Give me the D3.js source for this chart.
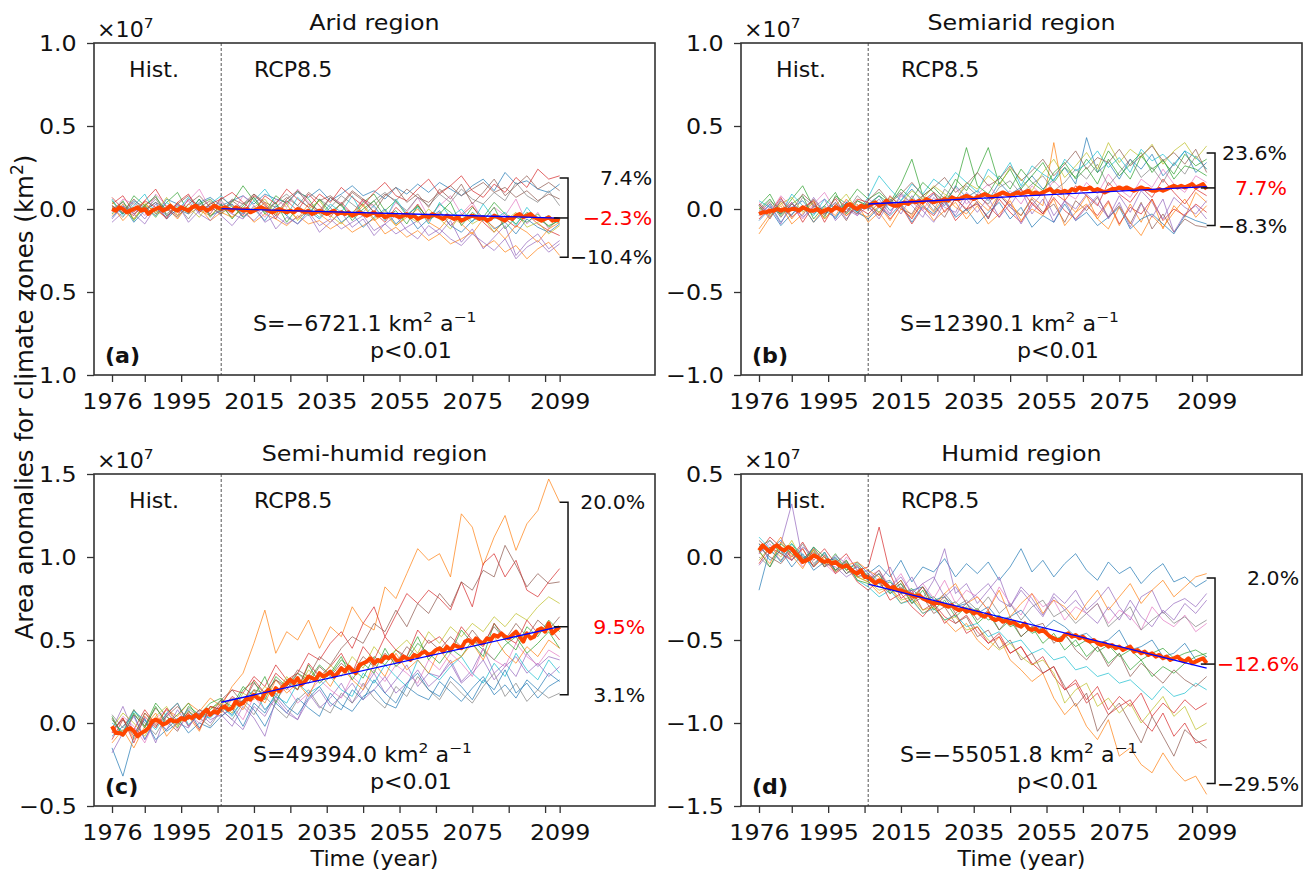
<!DOCTYPE html>
<html>
<head>
<meta charset="utf-8">
<script src="https://cdn.jsdelivr.net/npm/d3@7"></script>
<style>
  body { margin: 0; background: #fff; }
  svg { display: block; }
  text { font-family: "DejaVu Sans", sans-serif; }
</style>
</head>
<body>
<div id="chart"></div>
<script>
//////////////////////////////////////
// Data (area anomalies, units of 1e5 km2; the axes show x1e7)
//////////////////////////////////////

const mean_years = d3.range(1976, 2100);      // yearly ensemble mean
const run_years = d3.range(1976, 2100, 3);    // model runs, read every 3rd year
const trend_years = [2006, 2099];

const x_ticks = [1976, 1985, 1995, 2005, 2015, 2025, 2035, 2045, 2055, 2065, 2075, 2085, 2095, 2099];
const x_tick_labels = [1976, 1995, 2015, 2035, 2055, 2075, 2099];

const titles = ['Arid region', 'Semiarid region', 'Semi-humid region', 'Humid region'];
const letters = ['(a)', '(b)', '(c)', '(d)'];
const slopes = ['S=\u22126721.1', 'S=12390.1', 'S=49394.0', 'S=\u221255051.8'];
const pct_labels = [
  ['7.4%', '\u22122.3%', '\u221210.4%'],
  ['23.6%', '7.7%', '\u22128.3%'],
  ['20.0%', '9.5%', '3.1%'],
  ['2.0%', '\u221212.6%', '\u221229.5%']
];
// bracket ends (x1e7): max run, mean, min run at 2099
const bracket_vals = [
  [0.187, -0.054, -0.29],
  [0.337, 0.127, -0.10],
  [1.33, 0.58, 0.17],
  [-0.127, -0.645, -1.365]
];
const y_domains = [[-1, 1], [-1, 1], [-0.5, 1.5], [-1.5, 0.5]];
const y_ticks = [
  [-1, -0.5, 0, 0.5, 1],
  [-1, -0.5, 0, 0.5, 1],
  [-0.5, 0, 0.5, 1, 1.5],
  [-1.5, -1, -0.5, 0, 0.5]
];

// Arid
const arid_mean = [
  0,-1,1,0,-2,-1,0,1,-1,0, -3,-1,0,1,-1,0,2,0,-1,1, 0,-1,1,2,0,1,-1,0,2,1,
  0,1,0,-1,1,0,-1,0,-2,-1, 0,1,0,-1,-2,-1,0,-1,-2,-1, -2,0,-1,-2,-1,-3,-2,-1,-2,-3,
  -2,-1,-3,-2,-3,-2,-4,-3,-2,-3, -4,-3,-2,-4,-3,-5,-4,-3,-4,-5, -4,-3,-5,-4,-6,-5,-4,-5,-3,-4,
  -5,-6,-4,-5,-6,-5,-7,-6,-5,-4, -5,-6,-5,-7,-6,-4,-5,-6,-7,-5, -6,-4,-3,-5,-4,-3,-5,-6,-7,-6,
  -5,-7,-6,-7
];
const arid_trend = [0.2, -5.5];
const arid_runs = [
  [2,-3,5,1,-4,6,3,-2,4,7,2,5,8,3,9,6,4,10,7,12,5,9,14,8,11,6,13,9,15,10,16,12,8,14,18,11,22,15,17,12,10,15],
  [-4,3,-6,2,-1,-5,4,-3,1,-7,-2,-5,0,-8,-3,-6,-10,-4,-9,-7,-12,-8,-14,-10,-6,-15,-11,-17,-13,-19,-15,-21,-18,-14,-23,-19,-26,-22,-30,-24,-20,-28],
  [5,-3,8,2,-5,4,10,-2,3,6,-1,4,14,5,-2,8,3,11,6,-3,7,2,-5,4,9,-1,5,-4,2,-6,3,-2,-8,1,-5,4,-3,-9,-2,-6,-10,-7],
  [3,8,-2,5,12,1,-4,6,2,-3,7,2,-4,8,3,-6,5,-1,9,2,-5,4,-3,6,-2,-8,1,-5,3,-7,-2,-10,-4,2,-8,-14,-6,-11,-3,-9,-13,-16],
  [-8,-2,1,-6,3,-4,-1,5,-3,-7,1,-3,-6,2,-8,-4,-9,-5,-2,-10,-6,-12,-8,-4,-13,-9,-15,-11,-7,-16,-12,-18,-22,-15,-20,-25,-18,-30,-23,-19,-26,-21],
  [0,4,-3,2,7,-1,3,8,1,5,-2,6,3,9,4,1,7,2,10,5,8,3,11,6,2,9,5,12,7,4,10,14,8,12,16,10,13,7,11,5,9,6],
  [-2,6,3,-4,9,2,-1,5,12,0,4,-3,8,2,-5,6,1,12,4,-2,7,3,-4,5,1,-6,4,-2,7,-5,2,8,-3,4,-7,1,-4,6,-9,-2,-12,-5],
  [1,-5,4,-1,6,-3,2,-6,3,0,5,-2,3,7,-1,4,9,2,-3,6,1,8,3,-2,5,10,4,-1,7,2,9,4,12,6,3,10,5,16,8,4,11,2],
  [4,-1,-6,3,-2,7,-4,1,-5,4,-3,2,-5,1,6,-3,3,-7,0,5,-4,-9,-2,3,-6,-1,-10,-4,-8,0,-6,-12,-3,-9,-5,-14,-7,-2,-11,-8,-15,-10],
  [6,-4,2,9,-3,4,-1,7,-2,3,8,1,-3,5,12,3,-4,7,1,-5,3,-2,8,-4,2,-7,6,-3,1,-9,4,-5,0,-8,3,-6,-2,-10,1,-7,-4,-9],
  [-5,2,-8,-1,4,-6,0,-3,6,-4,-1,3,-5,0,-7,2,-4,-9,-1,-6,1,-8,-3,-11,-5,0,-9,-3,-12,-6,-1,-10,-14,-7,-4,-12,-8,-15,-6,-11,-14,-9],
  [2,-7,0,4,-3,1,-6,3,-1,-4,2,-5,1,-2,4,-4,0,-6,3,-3,-8,-1,-5,2,-7,-3,-10,-5,0,-8,-12,-4,-9,-15,-6,-11,-18,-10,-14,-20,-12,-8],
  [-3,5,-7,2,8,-4,1,-2,6,-5,3,-6,2,7,-3,4,-8,1,-4,6,-2,3,-7,0,5,-5,-1,-9,2,-6,-3,4,-10,-2,-7,1,-12,-5,-8,-3,-11,-6],
  [7,0,-4,5,1,-6,4,9,-2,3,6,10,4,-2,8,3,12,6,1,9,4,13,7,2,10,16,8,5,12,18,9,14,20,11,7,15,10,19,13,24,18,20],
  [-6,2,-3,-9,1,-5,3,-8,-1,2,-4,-10,-2,-7,0,-12,-5,-9,-3,-14,-8,-2,-11,-6,-16,-9,-4,-13,-18,-10,-15,-7,-20,-12,-24,-17,-10,-28,-20,-15,-24,-19],
  [2,-2,6,-1,4,0,-5,3,8,1,-3,5,0,9,2,-4,6,11,3,-1,7,2,10,5,-2,8,13,4,9,1,12,6,15,3,10,18,8,14,20,12,16,11]
];

// Semiarid
const semiarid_mean = [
  -3,-2,-2,-1,-1,0,-1,0,-1,0, 0,-1,1,0,-1,-1,0,-2,-1,0, -1,1,0,-1,2,3,1,0,2,1,
  2,3,4,2,3,5,3,2,2,3, 4,3,5,4,5,4,6,5,4,5, 5,6,5,7,6,6,7,8,7,6,
  7,8,9,8,7,8,9,10,9,8, 9,10,9,10,11,9,10,9,10,11, 12,10,11,10,11,10,12,11,13,12,
  12,13,11,12,11,10,11,12,12,13, 12,13,12,11,12,13,12,12,11,11, 12,11,12,13,14,13,14,13,14,15,
  13,14,15,12
];
const semiarid_trend = [3, 13.5];
const semiarid_runs = [
  [-4,3,-8,1,5,-3,2,-6,4,-2,3,8,-1,5,12,4,9,2,14,7,11,5,16,9,13,20,12,18,25,15,43,22,28,18,30,24,33,20,27,35,22,28],
  [-12,-3,4,-6,2,-8,1,-4,6,-2,-5,2,-7,3,-4,6,-2,8,1,-3,5,-1,9,3,-4,7,2,40,5,-2,8,-6,4,-10,3,-8,6,-12,2,-5,10,4],
  [2,9,-3,6,14,1,-5,8,3,12,6,10,4,15,30,8,13,6,18,11,22,37,15,24,12,20,28,16,25,19,30,22,35,26,18,32,24,29,21,33,26,30],
  [-6,1,-3,4,-8,2,-1,6,-4,1,-3,4,-6,2,-9,1,-4,5,-7,0,3,-5,6,-2,-8,4,-3,7,-1,-6,2,-4,5,-9,1,-3,6,-7,0,-4,3,-2],
  [3,-5,6,0,-4,7,-2,4,-6,2,0,6,-3,9,2,-5,7,1,-2,10,4,-6,8,2,12,-3,6,-8,5,0,9,3,-5,8,-2,11,4,-6,7,1,-3,5],
  [-2,4,-5,3,-1,6,-3,2,-7,5,1,-4,6,0,-3,8,2,-5,7,-1,4,-6,9,1,-4,6,-2,3,-8,5,-1,7,-5,2,-9,4,-12,-3,-14,-6,-10,-11],
  [4,-2,8,1,-6,3,10,-1,5,-4,6,2,-3,8,4,-1,10,5,13,3,9,15,6,11,3,14,8,17,10,6,16,9,21,12,7,18,13,24,15,10,20,16],
  [-1,5,0,-4,7,2,-3,4,-2,8,2,-2,5,10,3,8,-1,12,6,14,8,3,13,17,9,15,20,11,16,24,18,27,14,22,30,19,25,16,28,21,32,24],
  [1,-4,3,7,-2,5,-6,2,9,-1,4,-2,7,3,11,6,14,9,5,16,12,20,14,25,18,11,22,30,19,26,34,24,40,28,36,31,39,27,35,40,30,38],
  [5,1,-3,9,2,-4,6,0,3,-2,7,20,12,5,15,9,18,13,22,16,10,24,18,28,14,26,21,17,30,23,27,35,25,31,22,36,29,33,26,35,31,24],
  [-7,0,-10,-3,2,-8,-1,-5,4,-2,-6,1,-4,3,-8,2,-3,6,-5,0,-9,-2,4,-6,1,-11,-4,-8,3,-7,-2,-10,-5,1,-12,-6,-3,-9,-15,-4,-7,-9],
  [-15,-5,2,-9,-3,4,-6,1,-4,3,-8,-2,-11,0,-5,3,-7,-1,4,-6,2,-9,-3,5,-7,0,-4,6,-10,-2,3,-6,-12,1,-8,-16,-4,-11,-2,6,-5,2],
  [0,6,-4,3,8,-6,2,10,-3,5,2,8,3,12,6,16,10,4,13,37,14,9,20,12,24,16,11,22,28,18,25,15,30,20,27,34,22,30,18,26,24,20],
  [3,-3,7,-5,1,5,-8,3,-2,6,4,-4,8,1,-6,5,10,-2,6,0,9,2,-5,7,12,3,-3,10,5,14,8,2,16,9,4,13,7,18,10,3,12,8],
  [-3,2,-9,4,-5,1,6,-7,0,-4,2,-6,5,-3,8,-1,-8,4,-4,6,-2,7,-5,3,-9,2,10,-4,5,-7,1,8,-6,4,-11,3,-5,6,-14,-3,2,-6],
  [2,-6,5,-1,9,3,-4,7,1,-3,5,12,4,9,16,8,13,19,10,15,22,14,18,26,17,23,30,20,27,35,24,31,28,36,26,32,38,29,34,27,36,22]
];

// Semi-humid
const semihumid_mean = [
  -2,-6,-6,-7,-4,-3,-5,-8,-6,-5, -3,1,2,1,-1,0,2,1,1,3, 2,4,3,5,3,6,8,5,7,6,
  9,10,8,9,13,11,12,15,14,17, 15,14,18,20,17,21,19,22,24,26, 24,27,23,25,28,27,26,30,28,29,
  31,28,30,33,31,34,32,30,35,36, 37,39,36,38,37,40,39,41,38,37, 40,39,38,41,40,42,43,41,42,44,
  45,43,46,44,47,46,45,49,50,48, 51,49,48,51,50,53,52,54,52,51, 53,55,52,49,54,51,52,56,57,55,
  60,54,56,58
];
const semihumid_trend = [12.5, 58];
const semihumid_runs = [
  [-8,-2,5,-10,3,-5,0,8,-3,6,10,5,14,8,-2,12,6,15,9,4,18,11,7,16,20,12,9,22,17,14,25,19,13,21,28,17,23,15,26,20,30,25],
  [-5,3,-10,6,0,8,4,12,7,15,10,22,30,48,68,42,55,50,62,45,58,52,70,60,56,82,75,90,105,98,102,88,126,118,95,112,125,104,120,128,147,133],
  [2,-6,8,-2,12,4,-3,10,5,12,15,8,20,25,14,28,22,30,26,35,29,38,33,27,40,35,44,38,48,42,36,45,40,50,44,38,47,52,42,48,55,45],
  [-10,2,-4,8,-1,5,12,-2,6,4,12,20,18,28,22,35,26,30,42,38,48,55,45,60,70,52,65,78,72,80,75,68,85,70,96,102,88,98,80,76,85,93],
  [-4,10,-6,3,-12,6,0,-3,8,2,5,-2,10,3,-8,14,6,2,18,9,15,24,12,20,30,18,26,35,22,30,28,38,25,32,45,30,36,28,42,34,40,38],
  [3,-8,5,-2,9,1,-5,7,2,10,8,15,12,20,18,26,22,32,28,40,35,45,52,48,60,55,68,58,72,66,78,70,85,80,92,88,107,95,82,90,84,85],
  [-6,4,-2,-12,3,8,-4,5,0,6,4,10,2,16,8,14,22,12,18,26,20,15,28,22,32,25,35,30,24,38,32,42,36,28,45,38,34,48,40,35,44,40],
  [5,-3,8,0,-7,4,-1,9,3,-2,8,2,12,5,16,9,3,14,20,10,6,18,12,24,15,9,22,16,28,20,14,25,18,12,22,30,16,24,13,20,15,18],
  [-3,6,0,-8,4,10,-2,7,3,9,12,6,18,14,22,16,28,20,32,26,35,28,40,33,46,38,44,50,42,55,48,58,52,60,55,64,58,66,62,70,76,72],
  [0,-5,7,2,-4,6,12,-1,5,3,10,4,14,20,8,16,12,24,18,22,28,20,16,30,24,35,28,22,38,30,26,34,40,30,24,36,28,42,32,26,38,30],
  [-15,-32,-8,2,-10,-4,3,-6,0,-3,4,9,-2,12,6,18,10,5,15,22,12,8,20,14,26,18,12,24,30,20,16,28,22,14,26,20,32,18,24,15,22,26],
  [-12,-4,-15,-2,6,-8,0,4,-5,10,6,14,8,20,12,26,18,24,16,30,22,34,26,20,36,28,42,32,38,30,44,36,40,48,38,52,42,36,46,40,50,45],
  [4,-8,6,-3,10,-1,5,12,2,8,14,10,22,16,28,12,26,20,35,24,30,40,26,36,30,45,34,40,52,38,46,42,56,48,40,60,50,44,58,52,62,55],
  [-6,3,-12,4,-3,9,1,6,-4,10,8,16,12,26,18,30,24,20,36,28,34,42,30,46,38,52,44,40,56,48,52,44,58,50,46,60,52,48,62,54,58,50],
  [-18,-6,4,-10,2,-4,8,-2,6,0,8,2,-4,10,4,16,8,2,14,20,10,16,24,14,20,28,18,24,32,22,28,36,24,30,38,26,34,40,30,36,28,34],
  [-4,2,-8,6,-2,4,10,2,8,5,14,20,12,24,18,26,20,30,24,34,28,36,30,40,34,42,36,46,40,50,44,52,46,56,48,58,50,60,52,62,56,64]
];

// Humid
const humid_mean = [
  4,7,5,3,6,7,5,4,6,5, 2,0,-3,-2,-1,1,0,-2,-3,-2, -4,-3,-5,-6,-5,-7,-9,-10,-8,-12,
  -12,-14,-16,-14,-15,-17,-19,-18,-20,-20, -21,-22,-23,-24,-23,-25,-26,-27,-28,-27, -28,-29,-30,-29,-31,-32,-31,-33,-32,-34,
  -33,-35,-36,-34,-37,-38,-37,-39,-38,-40, -39,-41,-42,-40,-43,-44,-43,-45,-44,-46, -48,-49,-50,-50,-47,-46,-48,-47,-49,-48,
  -50,-51,-50,-52,-53,-52,-54,-53,-55,-54, -56,-55,-54,-57,-56,-58,-57,-59,-58,-60, -59,-61,-60,-62,-61,-60,-62,-63,-61,-64,
  -63,-62,-61,-64
];
const humid_trend = [-16.3, -67];
const humid_runs = [
  [-20,5,10,3,-2,6,-4,0,-8,-3,-10,-5,-12,-2,-15,-6,-9,-1,-12,-4,-10,-3,-14,-6,5,-9,-2,-12,-4,2,-8,-14,-3,-10,-6,-16,-9,-4,-15,-12,-18,-14],
  [8,3,12,-2,5,-6,0,-8,-4,-12,-15,-22,-18,-28,-25,-34,-30,-38,-45,-40,-50,-56,-48,-62,-68,-75,-70,-85,-95,-88,-102,-110,-98,-120,-115,-125,-130,-118,-128,-135,-132,-143],
  [6,10,2,8,-1,4,-6,2,-8,-4,-12,-18,-15,-22,-19,-26,-24,-30,-27,-34,-31,-38,-35,-42,-39,-46,-43,-50,-47,-54,-50,-57,-53,-60,-56,-62,-58,-55,-61,-58,-56,-60],
  [3,12,6,0,9,-2,5,-4,2,-8,-6,18,-10,-25,-20,-32,-28,-36,-40,-35,-45,-52,-48,-58,-54,-65,-60,-72,-80,-76,-88,-82,-95,-90,-86,-98,-105,-94,-108,-100,-112,-110],
  [-5,3,8,32,-2,5,-6,1,-4,-10,-8,-15,-6,-20,-12,-25,-14,5,-22,-16,-28,-20,-12,-30,-18,-25,-35,-22,-28,-20,-32,-26,-18,-30,-38,-24,-20,-34,-28,-25,-30,-22],
  [10,4,-2,6,0,-5,3,-8,-2,-12,-10,-16,-22,-18,-28,-24,-34,-30,-40,-36,-48,-44,-55,-50,-62,-58,-70,-66,-78,-90,-82,-105,-95,-88,-100,-112,-96,-108,-120,-104,-110,-115],
  [2,8,-3,5,-6,2,-4,-10,0,-6,-12,-8,-18,-10,-22,-16,-25,-14,-28,-20,-24,-32,-18,-28,-35,-22,-30,-26,-38,-30,-34,-28,-40,-32,-36,-44,-30,-38,-42,-35,-45,-40],
  [0,-6,5,-2,8,-4,2,-8,-3,-10,-14,-10,-20,-16,-24,-18,-28,-22,-30,-26,-32,-24,-34,-28,-38,-30,-26,-36,-32,-40,-34,-28,-42,-36,-30,-44,-38,-33,-40,-36,-42,-38],
  [-2,6,0,10,-3,4,-5,-1,-8,-12,-15,-20,-18,-26,-24,-32,-30,-38,-36,-44,-42,-50,-56,-52,-60,-65,-62,-70,-88,-80,-76,-90,-85,-94,-88,-100,-92,-84,-96,-90,-104,-100],
  [12,5,-3,8,1,-6,3,-9,-4,-14,-18,-24,-20,-28,-26,-34,-31,-38,-35,-42,-40,-48,-45,-52,-50,-58,-55,-62,-60,-68,-66,-72,-70,-76,-74,-80,-86,-78,-84,-82,-76,-80],
  [8,-2,4,-6,2,-8,-3,-1,-10,-6,-12,-16,-14,-22,-20,-18,-26,-24,-30,-28,-34,-30,-38,-36,-32,-40,-44,-38,-42,-48,-46,-52,-50,-44,-56,-54,-50,-60,-58,-52,-62,-60],
  [3,-4,9,1,-7,5,-2,-9,-5,-3,-8,-12,-20,-14,-25,-18,-30,-22,-16,-28,-24,-32,-20,-36,-28,-22,-34,-26,-30,-38,-28,-20,-32,-24,-16,-28,-20,-14,-24,-18,-12,-10],
  [4,-6,8,2,-4,6,0,-8,-2,-14,-16,-10,-22,-16,-28,-20,-32,-26,-36,-30,-40,-34,-44,-38,-48,-42,-52,-46,-56,-50,-60,-54,-64,-58,-68,-62,-72,-66,-70,-64,-60,-58],
  [-4,6,2,-2,5,-6,1,-10,-5,-15,-20,-14,-26,-22,-30,-36,-28,-40,-34,-46,-42,-52,-46,-58,-54,-64,-70,-66,-80,-74,-86,-78,-92,-84,-90,-82,-96,-88,-94,-86,-92,-88],
  [2,10,4,-2,6,1,-4,-6,-12,-8,-14,-10,-18,-12,-22,-16,-12,-24,-18,-28,-22,-16,-26,-30,-20,-28,-36,-24,-32,-26,-34,-40,-30,-38,-26,-36,-42,-32,-38,-28,-34,-26],
  [6,0,-4,4,-2,3,-6,-2,-10,-5,-14,-8,-20,-14,-26,-18,-30,-24,-34,-28,-38,-32,-44,-36,-48,-42,-40,-52,-46,-56,-62,-54,-66,-58,-72,-64,-70,-76,-68,-74,-78,-72]
];

const all_means = [arid_mean, semiarid_mean, semihumid_mean, humid_mean];
const all_runs = [arid_runs, semiarid_runs, semihumid_runs, humid_runs];
const all_trends = [arid_trend, semiarid_trend, semihumid_trend, humid_trend];

//////////////////////////////////////
// Layout
//////////////////////////////////////

const WIDTH = 1311;
const HEIGHT = 875;
const PW = 561;                 // plot width
const PH = 332;                 // plot height
const FS = 20.5;                // base font size
const TITLE_FS = 22;
const TICK_FS = 22;             // tick label size
const PCT_FS = 19.5;            // spread labels
const SX = 1.08;                // the figure is a bit stretched sideways
const X_DOMAIN = [1971.05, 2125.2];
const HIST_END = 2006;
const BRACKET_YEAR = 2101.3;
const PCT_RIGHT = [2124.4, 2121.1, 2122.5, 2124.4];
const panels = [
  { left: 94, top: 43 },
  { left: 741, top: 43 },
  { left: 94, top: 474 },
  { left: 741, top: 474 }
];
const COLORS = d3.schemeCategory10;

let svg = d3.select('#chart').append('svg')
  .attr('width', WIDTH)
  .attr('height', HEIGHT);

// stretched text helper; parts = [[string, is_superscript], ...]
function label (g, x, y, parts, o) {
  o = o || {};
  let fs = o.size || FS;
  let t = g.append('text')
    .attr('transform', 'translate(' + x + ',' + y + ')' + (o.rotate ? 'rotate(' + o.rotate + ')' : '') + 'scale(' + (o.sx || SX) + ',1)')
    .attr('font-size', fs)
    .attr('font-weight', o.bold ? 'bold' : null)
    .attr('text-anchor', o.anchor || 'start')
    .attr('fill', o.color || '#111');
  if (typeof parts == 'string') parts = [[parts, false]];
  let up = false;
  parts.forEach(p => {
    let s = t.append('tspan').text(p[0]);
    if (p[1] && !up) { s.attr('dy', -0.42 * fs).attr('font-size', fs * 0.7); up = true; }
    else if (p[1]) { s.attr('font-size', fs * 0.7); }
    else if (up) { s.attr('dy', 0.42 * fs); up = false; }
  });
  return t;
}

function style_axis (a) {
  a.select('.domain').remove();
  a.selectAll('.tick line').attr('stroke', '#333').attr('stroke-width', 1.3);
  a.selectAll('.tick text')
    .attr('font-size', TICK_FS)
    .attr('font-family', '"DejaVu Sans", sans-serif')
    .attr('fill', '#111')
    .attr('transform', 'scale(' + SX + ',1)');
}

function draw_panel (i) {
  let L = panels[i];
  let g = svg.append('g');
  let x = d3.scaleLinear().domain(X_DOMAIN).range([L.left, L.left + PW]);
  let y = d3.scaleLinear().domain(y_domains[i]).range([L.top + PH, L.top]);
  let line = d3.line().x(d => x(d[0])).y(d => y(d[1] / 100));

  // model runs
  all_runs[i].forEach((run, k) => {
    g.append('path')
      .datum(run.map((v, j) => [run_years[j], v]))
      .attr('d', line)
      .attr('fill', 'none')
      .attr('stroke', COLORS[k % 10])
      .attr('stroke-opacity', 0.7)
      .attr('stroke-width', 1);
  });

  // ensemble mean
  g.append('path')
    .datum(all_means[i].map((v, j) => [mean_years[j], v]))
    .attr('d', line)
    .attr('fill', 'none')
    .attr('stroke', '#ff4500')
    .attr('stroke-width', 4)
    .attr('stroke-linejoin', 'round');

  // linear trend of the RCP8.5 period
  g.append('path')
    .datum(all_trends[i].map((v, j) => [trend_years[j], v]))
    .attr('d', line)
    .attr('fill', 'none')
    .attr('stroke', '#0000ff')
    .attr('stroke-width', 1.3);

  // hist / rcp separator
  g.append('line')
    .attr('x1', x(HIST_END)).attr('x2', x(HIST_END))
    .attr('y1', L.top).attr('y2', L.top + PH)
    .attr('stroke', '#555')
    .attr('stroke-width', 1)
    .attr('stroke-dasharray', '3,2');

  // frame
  g.append('rect')
    .attr('x', L.left).attr('y', L.top)
    .attr('width', PW).attr('height', PH)
    .attr('fill', 'none')
    .attr('stroke', '#333')
    .attr('stroke-width', 1.6);

  // axes
  let ax = g.append('g')
    .attr('transform', 'translate(' + L.left + ',0)')
    .call(d3.axisLeft(y).tickValues(y_ticks[i]).tickSize(7).tickPadding(9).tickFormat(d3.format('.1f')));
  style_axis(ax);
  let bx = g.append('g')
    .attr('transform', 'translate(0,' + (L.top + PH) + ')')
    .call(d3.axisBottom(x).tickValues(x_ticks).tickSize(7).tickPadding(11)
      .tickFormat(d => x_tick_labels.includes(d) ? d : ''));
  style_axis(bx);

  // texts
  label(g, L.left + 3, L.top - 6, [['\u00d710', false], ['7', true]]);
  label(g, L.left + PW / 2, L.top - 13, titles[i], { anchor: 'middle', size: TITLE_FS });
  label(g, L.left + 35, L.top + 34, 'Hist.');
  label(g, L.left + 160, L.top + 34, 'RCP8.5');
  label(g, L.left + 11, L.top + PH - 12, letters[i], { bold: true });
  label(g, L.left + 159, L.top + PH - 44,
    [[slopes[i] + ' km', false], ['2', true], [' a', false], ['\u22121', true]]);
  label(g, L.left + 276, L.top + PH - 17, 'p<0.01');

  // spread bracket at the end of the century
  let bv = bracket_vals[i];
  let bxp = x(BRACKET_YEAR);
  let bg = g.append('g').attr('stroke', '#111').attr('stroke-width', 1.5).attr('fill', 'none');
  bg.append('path').attr('d',
    'M' + x(2099) + ',' + y(bv[0]) + 'H' + bxp + 'V' + y(bv[2]) + 'H' + x(2099));
  bg.append('line')
    .attr('x1', x(2097.4)).attr('x2', bxp)
    .attr('y1', y(bv[1])).attr('y2', y(bv[1]));
  pct_labels[i].forEach((s, k) => {
    label(g, x(PCT_RIGHT[i]), y(bv[k]) + 7, s,
      { anchor: 'end', size: PCT_FS, sx: 1.05, color: k == 1 ? '#ff0000' : '#111' });
  });
}

for (let i = 0; i < 4; i++) draw_panel(i);

// shared labels
label(svg, 33, 397, [['Area anomalies for climate zones (km', false], ['2', true], [')', false]],
  { rotate: -90, anchor: 'middle', size: 24.5, sx: 1 });
label(svg, panels[2].left + PW / 2, 866, 'Time (year)', { anchor: 'middle' });
label(svg, panels[3].left + PW / 2, 866, 'Time (year)', { anchor: 'middle' });
</script>
</body>
</html>
